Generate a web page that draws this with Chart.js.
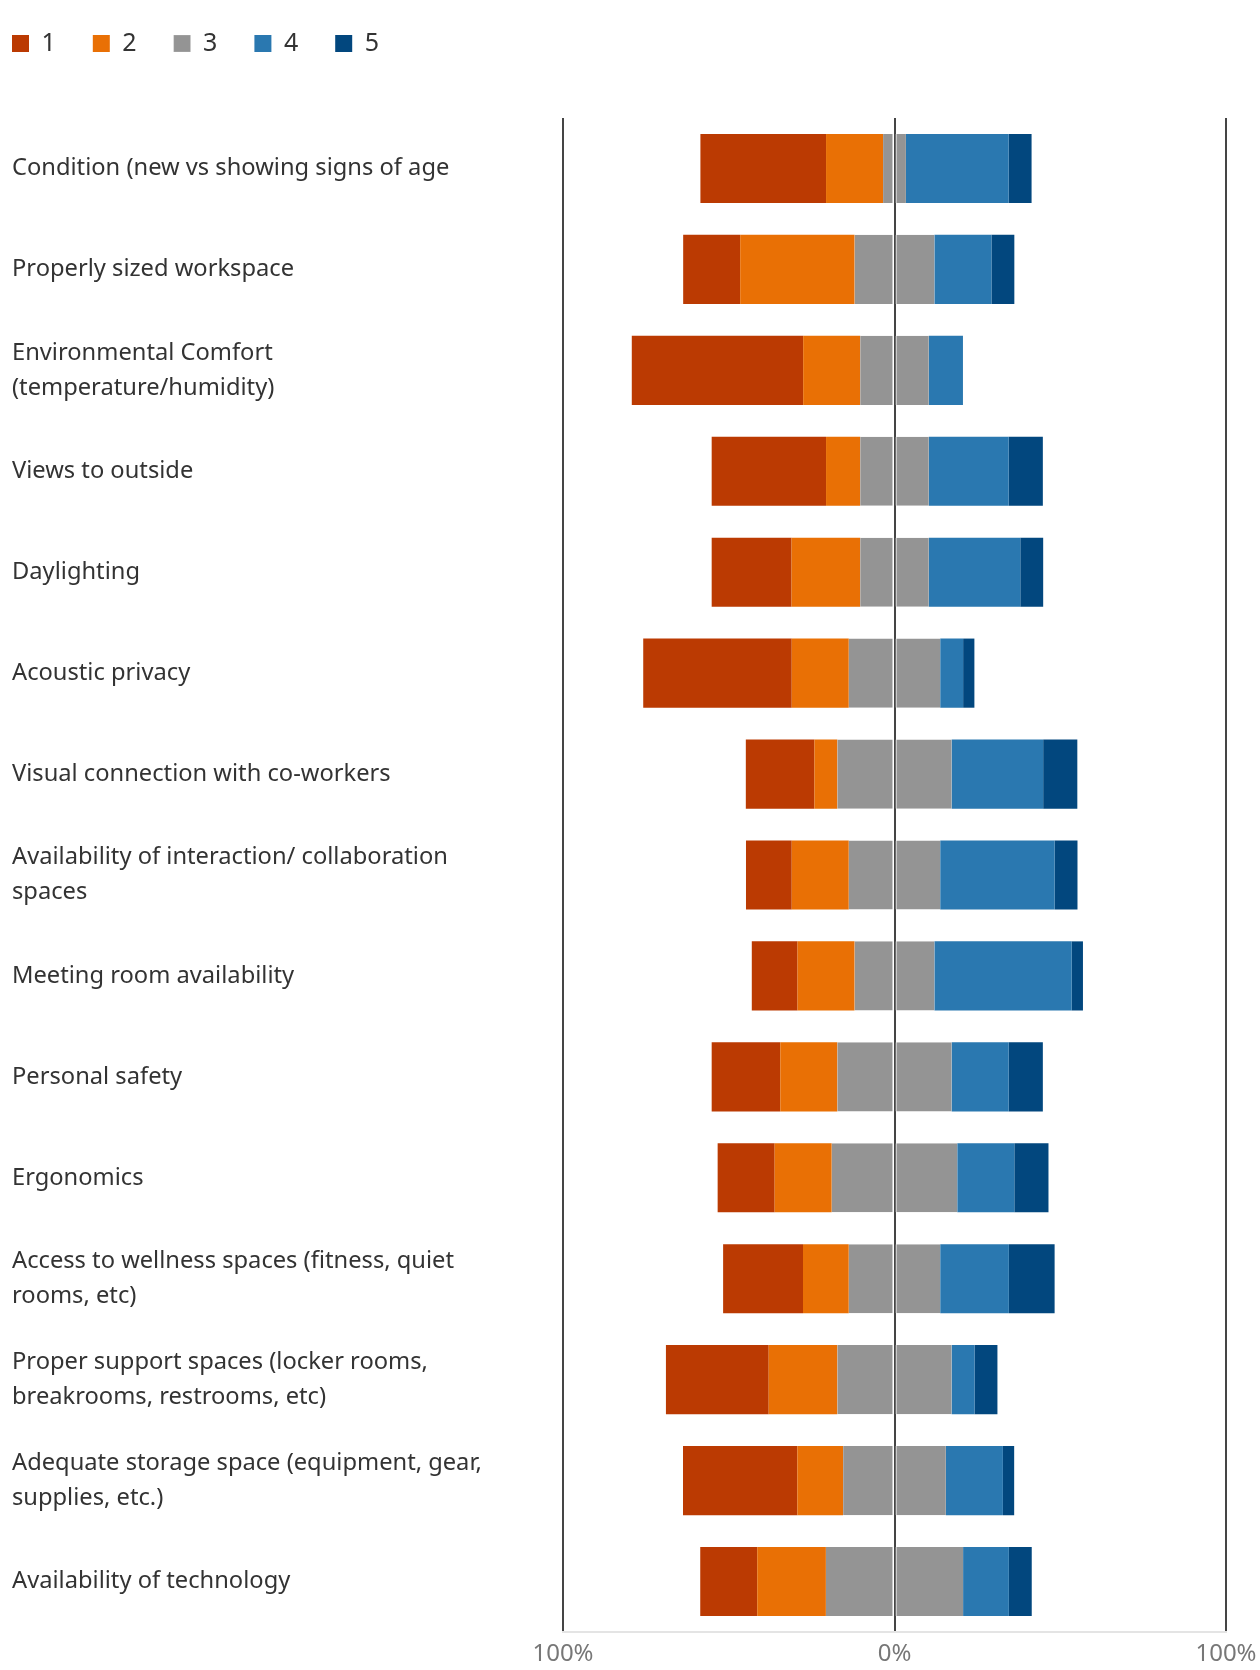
<!DOCTYPE html>
<html>
<head>
<meta charset="utf-8">
<title>Workspace ratings</title>
<script src="https://cdn.jsdelivr.net/npm/chart.js@4.4.1/dist/chart.umd.min.js"></script>
<style>
  html, body { margin: 0; padding: 0; background: #ffffff; }
</style>
</head>
<body>
<canvas id="ratings" width="1260" height="1670"></canvas>
<script>
// rows of the survey, top to bottom
const categories = [
  "Condition (new vs showing signs of age",
  "Properly sized workspace",
  ["Environmental Comfort", "(temperature/humidity)"],
  "Views to outside",
  "Daylighting",
  "Acoustic privacy",
  "Visual connection with co-workers",
  ["Availability of interaction/ collaboration", "spaces"],
  "Meeting room availability",
  "Personal safety",
  "Ergonomics",
  ["Access to wellness spaces (fitness, quiet", "rooms, etc)"],
  ["Proper support spaces (locker rooms,", "breakrooms, restrooms, etc)"],
  ["Adequate storage space (equipment, gear,", "supplies, etc.)"],
  "Availability of technology",
];

// share of answers (%) for each rating
const rating1 = [37.9, 17.2, 51.7, 34.5, 24.1, 44.8, 20.7, 13.8, 13.8, 20.7, 17.2, 24.1, 31.0, 34.5, 17.2];
const rating2 = [17.2, 34.5, 17.2, 10.3, 20.7, 17.2, 6.9, 17.2, 17.2, 17.2, 17.2, 13.8, 20.7, 13.8, 20.7];
const rating3 = [6.9, 24.1, 20.7, 20.7, 20.7, 27.6, 34.5, 27.6, 24.1, 34.5, 37.9, 27.6, 34.5, 31.0, 41.4];
const rating4 = [31.0, 17.2, 10.3, 24.1, 27.6, 6.9, 27.6, 34.5, 41.4, 17.2, 17.2, 20.7, 6.9, 17.2, 13.8];
const rating5 = [6.9, 6.9, 0, 10.3, 6.9, 3.4, 10.3, 6.9, 3.4, 10.3, 10.3, 13.8, 6.9, 3.4, 6.9];

const xTicks = [-100, 0, 100];

const colors = ["#bb3a02", "#e97005", "#949494", "#2a78b0", "#02477e"];

Chart.defaults.font.family = "'Noto Sans', 'Open Sans', sans-serif";

// legend sits in a fixed band above the plot, flush left
const legendBand = {
  id: "legendBand",
  beforeInit(chart) {
    const fit = chart.legend.fit;
    chart.legend.fit = function () {
      fit.call(this);
      this.height = 118;
    };
  },
  afterLayout(chart) {
    chart.legend.left -= 37;
    chart.legend.right -= 37;
    chart.legend.top -= 6;
  },
};

// rating 3 is split half each side of zero
const datasets = [
  { label: "1", data: rating1.map((v) => -v), backgroundColor: colors[0], order: 2 },
  { label: "2", data: rating2.map((v) => -v), backgroundColor: colors[1], order: 1 },
  {
    label: "3", data: rating3.map((v) => -v / 2), backgroundColor: colors[2], order: 0,
    borderColor: "rgba(255,255,255,0.85)", borderWidth: { right: 1 }, borderSkipped: false,
  },
  {
    label: "3b", data: rating3.map((v) => v / 2), backgroundColor: colors[2], order: 0,
    borderColor: "rgba(255,255,255,0.85)", borderWidth: { left: 1 }, borderSkipped: false,
  },
  { label: "4", data: rating4, backgroundColor: colors[3], order: 1 },
  { label: "5", data: rating5, backgroundColor: colors[4], order: 2 },
];

new Chart(document.getElementById("ratings"), {
  type: "bar",
  data: { labels: categories, datasets: datasets },
  options: {
    indexAxis: "y",
    responsive: false,
    animation: false,
    categoryPercentage: 0.685,
    barPercentage: 1,
    layout: { padding: { left: 12, right: 34, top: 0, bottom: 0 } },
    scales: {
      x: {
        stacked: true,
        min: -100,
        max: 100,
        afterBuildTicks: (scale) => {
          scale.ticks = xTicks.map((v) => ({ value: v }));
        },
        afterFit: (scale) => {
          scale.height = 38;
          scale.paddingLeft = 0;
          scale.paddingRight = 0;
        },
        ticks: {
          callback: (v) => Math.abs(v) + "%",
          color: "#777777",
          font: { size: 24 },
          padding: 8,
          maxRotation: 0,
        },
        grid: {
          color: "#454545",
          lineWidth: 2,
          drawTicks: false,
        },
        border: { display: true, color: "#e4e4e4", width: 2 },
      },
      y: {
        stacked: true,
        afterFit: (scale) => {
          scale.width = 551;
        },
        ticks: {
          autoSkip: false,
          crossAlign: "far",
          color: "#333333",
          font: { size: 23.7, lineHeight: 1.48 },
          padding: 0,
        },
        grid: { display: false },
        border: { display: false },
      },
    },
    plugins: {
      legend: {
        position: "top",
        align: "start",
        labels: {
          boxWidth: 17,
          boxHeight: 17,
          padding: 37,
          color: "#333333",
          font: { size: 25 },
          filter: (item) => item.text !== "3b",
          sort: (a, b) => a.datasetIndex - b.datasetIndex,
        },
      },
      tooltip: { enabled: false },
    },
  },
  plugins: [legendBand],
});
</script>
</body>
</html>
